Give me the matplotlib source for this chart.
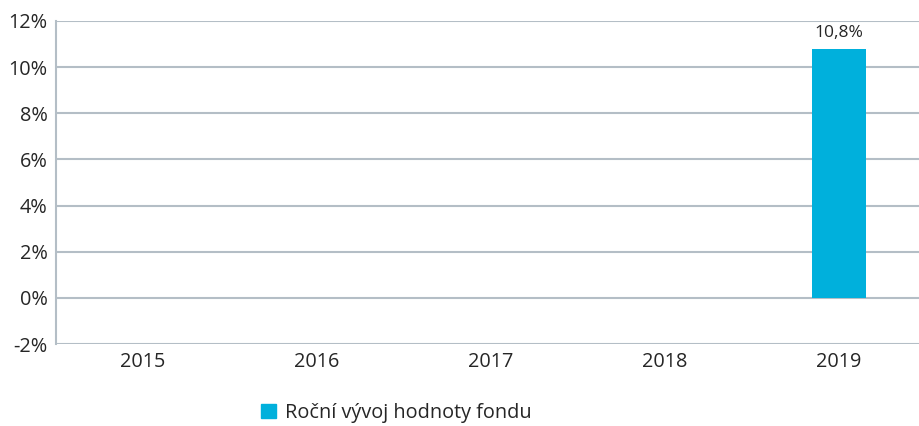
import matplotlib
matplotlib.use("Agg")
import matplotlib.pyplot as plt
from matplotlib.patches import Patch

years = ["2015", "2016", "2017", "2018", "2019"]
values = [None, None, None, None, 10.8]
labels = ["", "", "", "", "10,8%"]
yticks = [-2, 0, 2, 4, 6, 8, 10, 12]
ytick_labels = ["-2%", "0%", "2%", "4%", "6%", "8%", "10%", "12%"]
series_name = "Roční vývoj hodnoty fondu"

plt.rcParams['font.family'] = ['Open Sans', 'DejaVu Sans']
W, H = 919, 426
fig = plt.figure(figsize=(W/100, H/100), dpi=100)
ax = fig.add_axes([56/W, 1-344/H, 870/W, 323/H])

bar_color = "#00B0DC"
grid_color = "#B4BEC6"
xs = list(range(len(years)))
for x, v, lab in zip(xs, values, labels):
    if v is None:
        continue
    ax.bar(x, v, width=0.31, color=bar_color, zorder=3)
    ax.text(x, v + 0.35, lab, ha="center", va="bottom", fontsize=12.5, color="#262626")

ax.set_xlim(-0.5, 4.5)
ax.set_ylim(-2, 12)
ax.set_yticks(yticks)
ax.set_yticklabels(ytick_labels, fontsize=14.3, color="#262626")
ax.set_xticks(xs)
ax.set_xticklabels(years, fontsize=14.3, color="#262626")
ax.tick_params(axis="both", length=0)
ax.tick_params(axis="y", pad=6)
ax.tick_params(axis="x", pad=6)
ax.yaxis.grid(True, color=grid_color, linewidth=1.5, zorder=0)
for s in ["top", "right", "bottom"]:
    ax.spines[s].set_visible(False)
ax.spines["left"].set_color(grid_color)
ax.spines["left"].set_linewidth(1.5)

fig.legend(handles=[Patch(color=bar_color)], labels=[series_name],
           loc="center left", bbox_to_anchor=(243/W, 1-413/H), frameon=False,
           fontsize=14.3, handlelength=0.75, handleheight=0.75, handletextpad=0.45,
           labelcolor="#262626")

fig.savefig("out.png", dpi=100)
